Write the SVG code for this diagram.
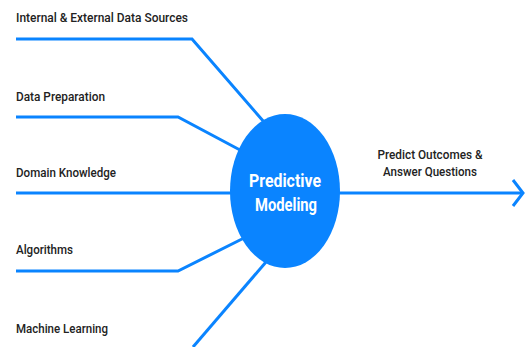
<svg xmlns="http://www.w3.org/2000/svg" width="525" height="347" viewBox="0 0 525 347">
<style>
.lbl{font-family:Roboto,"Liberation Sans",sans-serif;font-size:13px;font-weight:500;fill:#222}
.ctr{font-family:Roboto,"Liberation Sans",sans-serif;font-size:18px;font-weight:bold;fill:#fff;text-anchor:middle}
.ln{fill:none;stroke:#0A84FF;stroke-width:3;stroke-linejoin:miter}
</style>
<rect width="525" height="347" fill="#fff"/>
<g id="connectors">
<polyline class="ln" points="16,39 192,39 264,122"/>
<polyline class="ln" points="16,117 178,117 240,150"/>
<line class="ln" x1="16" y1="193" x2="232" y2="193"/>
<polyline class="ln" points="16,271 178,271 244,238"/>
<line class="ln" x1="193" y1="347" x2="266" y2="262"/>
<line class="ln" x1="338" y1="193" x2="521" y2="193"/>
<polyline class="ln" points="513,180 523,193 513,206"/>
</g>
<g id="center">
<ellipse cx="285" cy="191" rx="55" ry="77" fill="#0A84FF"/>
<text class="ctr" x="285" y="187" textLength="72" lengthAdjust="spacingAndGlyphs">Predictive</text>
<text class="ctr" x="286" y="211" textLength="62" lengthAdjust="spacingAndGlyphs">Modeling</text>
</g>
<g id="n1"><text class="lbl" x="16" y="22" textLength="172" lengthAdjust="spacingAndGlyphs">Internal &amp; External Data Sources</text></g>
<g id="n2"><text class="lbl" x="16" y="101" textLength="89" lengthAdjust="spacingAndGlyphs">Data Preparation</text></g>
<g id="n3"><text class="lbl" x="16" y="177" textLength="100" lengthAdjust="spacingAndGlyphs">Domain Knowledge</text></g>
<g id="n4"><text class="lbl" x="16" y="254" textLength="57" lengthAdjust="spacingAndGlyphs">Algorithms</text></g>
<g id="n5"><text class="lbl" x="16" y="333" textLength="92" lengthAdjust="spacingAndGlyphs">Machine Learning</text></g>
<g id="out">
<text class="lbl" x="430" y="159" text-anchor="middle" textLength="105" lengthAdjust="spacingAndGlyphs">Predict Outcomes &amp;</text>
<text class="lbl" x="430" y="176" text-anchor="middle" textLength="94" lengthAdjust="spacingAndGlyphs">Answer Questions</text>
</g>
</svg>
